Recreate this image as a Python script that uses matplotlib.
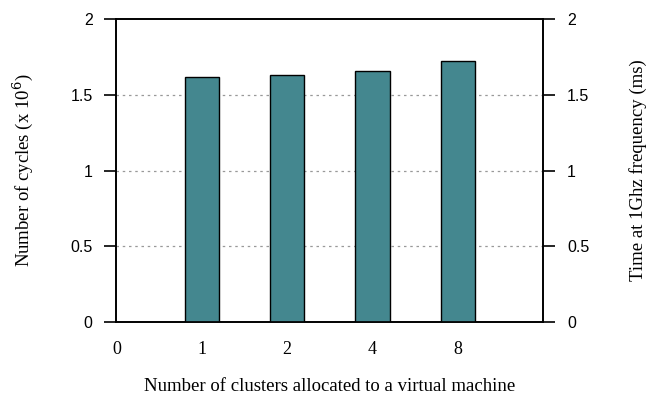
import matplotlib.pyplot as plt
import numpy as np

clusters = ['1', '2', '4', '8']
cycles = [1.62, 1.63, 1.66, 1.72]   # x 10^6 cycles, same number in ms at 1 GHz
yticks = [0, 0.5, 1, 1.5, 2]
ytick_labels = ['0', '0.5', '1', '1.5', '2']

BAR_COLOR = '#44878f'

fig = plt.figure(figsize=(6.59, 3.94), dpi=100)
ax = fig.add_axes([0.1765, 0.1827, 0.8244 - 0.1765, 0.9518 - 0.1827])

pos = np.arange(1, len(clusters) + 1)
ax.bar(pos, cycles, width=0.4, color=BAR_COLOR, edgecolor='black', linewidth=1.0, zorder=3)

ax.set_xlim(0, 5)
ax.set_ylim(0, 2)
ax.set_xticks([0] + list(pos))
ax.set_xticklabels(['0'] + clusters, family='Liberation Serif', fontsize=13)
ax.tick_params(axis='x', length=0, pad=14)

ax.set_yticks(yticks)
ax.set_yticklabels(ytick_labels, family='Liberation Sans', fontsize=11.5)
ax.tick_params(axis='y', direction='out', length=8.6, width=1.2, pad=8.5)

for y in yticks[1:-1]:
    ax.axhline(y, color='#999999', linestyle=(0, (2, 3)), linewidth=0.9, zorder=1)

for s in ax.spines.values():
    s.set_linewidth(1.2)

ax.set_xlabel('Number of clusters allocated to a virtual machine',
              family='Liberation Serif', fontsize=13.5)
ax.xaxis.set_label_coords(0.5, -0.185)
ax.set_ylabel('Number of cycles (x 10$^6$)', family='Liberation Serif', fontsize=13.5)
ax.yaxis.label.set_math_fontfamily('dejavuserif')
ax.yaxis.set_label_coords(-0.190, 0.5)

ax2 = ax.twinx()
ax2.set_ylim(0, 2)
ax2.set_yticks(yticks)
ax2.set_yticklabels(ytick_labels, family='Liberation Sans', fontsize=11.5)
ax2.tick_params(axis='y', direction='out', length=8.6, width=1.2, pad=8.5)
for s in ax2.spines.values():
    s.set_linewidth(1.2)
ax2.set_ylabel('Time at 1Ghz frequency (ms)', family='Liberation Serif', fontsize=13.5)
ax2.yaxis.set_label_coords(1.2007, 0.5)

fig.savefig('out.png', dpi=100)
